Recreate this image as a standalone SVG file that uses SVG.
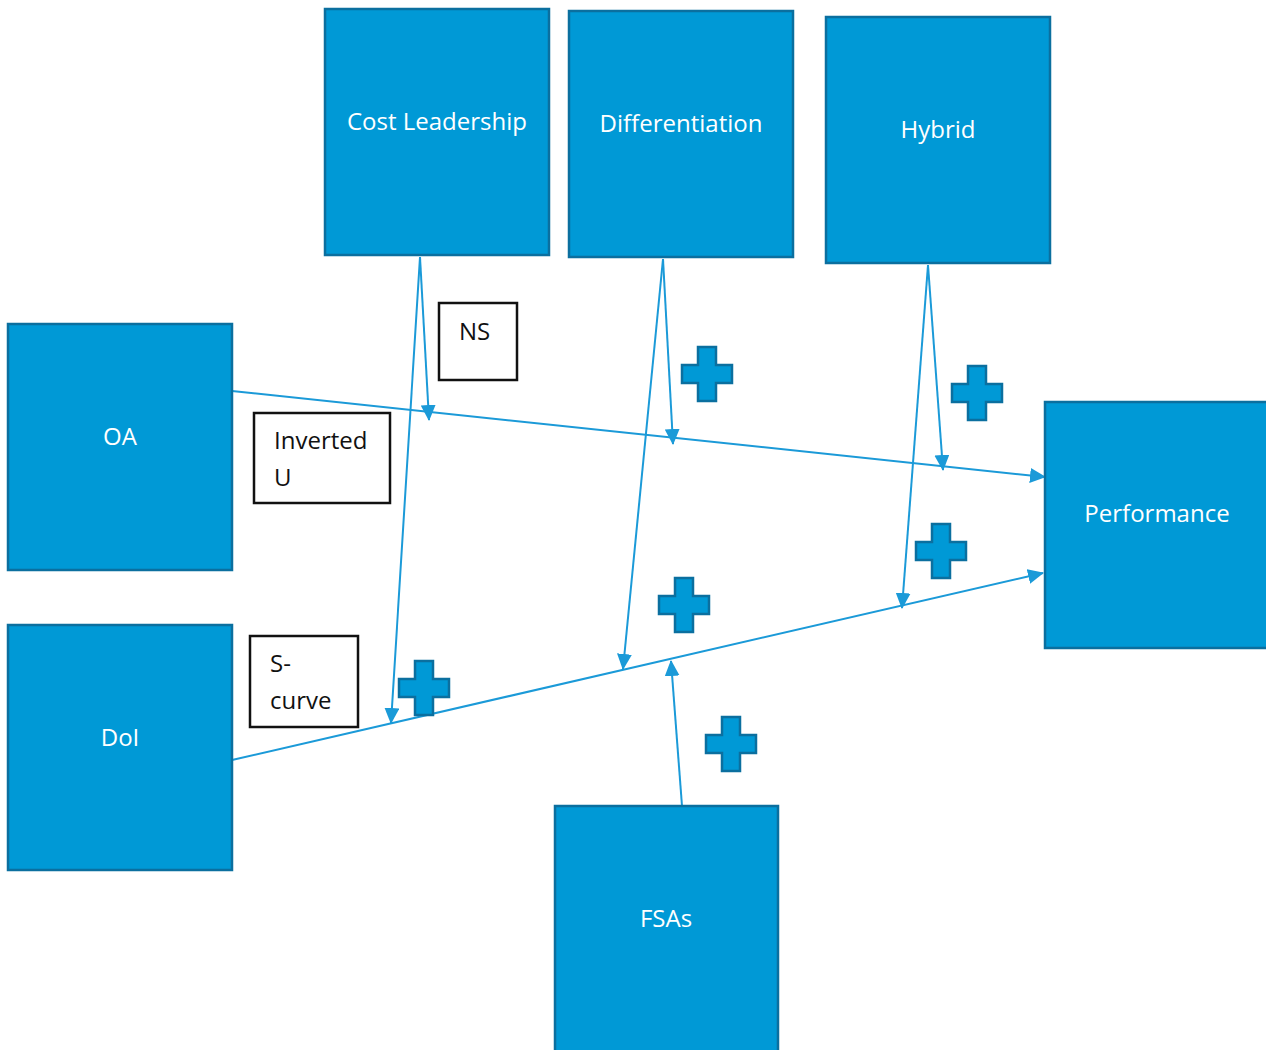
<svg xmlns="http://www.w3.org/2000/svg" width="1266" height="1050" viewBox="0 0 1266 1050">
<style>
.box{fill:#0099d6;stroke:#0b6f9f;stroke-width:2.5}
.lbl{fill:#fff;font-family:"Open Sans","Noto Sans",sans-serif;font-size:24px;text-anchor:middle}
.note{fill:#fff;stroke:#111;stroke-width:2.5}
.nt{fill:#111;font-family:"Open Sans","Noto Sans",sans-serif;font-size:24px}
.conn{stroke:#1b9ad8;stroke-width:2;fill:none;marker-end:url(#ah)}
.plus{fill:#0099d6;stroke:#0b6f9f;stroke-width:2.5}
</style>
<defs>
<marker id="ah" viewBox="0 0 16 15" refX="15" refY="7.5" markerWidth="16" markerHeight="15" markerUnits="userSpaceOnUse" orient="auto">
<path d="M0,0 L16,7.5 L0,15 z" fill="#1b9ad8"/>
</marker>
<polygon id="plus" class="plus" points="-9,-27 9,-27 9,-9 25,-9 25,9 9,9 9,27 -9,27 -9,9 -25,9 -25,-9 -9,-9"/>
</defs>
<rect width="1266" height="1050" fill="#fff"/>
<g id="connectors">
<line class="conn" x1="232" y1="391" x2="1045" y2="477"/>
<line class="conn" x1="232" y1="760" x2="1043" y2="573"/>
<line class="conn" x1="420" y1="257" x2="429" y2="420"/>
<line class="conn" x1="420" y1="257" x2="391" y2="723"/>
<line class="conn" x1="663" y1="259" x2="673" y2="444"/>
<line class="conn" x1="663" y1="259" x2="623" y2="669"/>
<line class="conn" x1="928" y1="265" x2="943" y2="470"/>
<line class="conn" x1="928" y1="265" x2="902" y2="608"/>
<line class="conn" x1="682" y1="806" x2="671" y2="661"/>
</g>
<g id="cost-leadership"><rect class="box" x="325" y="9" width="224" height="246"/><text class="lbl" x="437" y="130">Cost Leadership</text></g>
<g id="differentiation"><rect class="box" x="569" y="11" width="224" height="246"/><text class="lbl" x="681" y="132">Differentiation</text></g>
<g id="hybrid"><rect class="box" x="826" y="17" width="224" height="246"/><text class="lbl" x="938" y="138">Hybrid</text></g>
<g id="oa"><rect class="box" x="8" y="324" width="224" height="246"/><text class="lbl" x="120" y="445">OA</text></g>
<g id="doi"><rect class="box" x="8" y="625" width="224" height="245"/><text class="lbl" x="120" y="746">DoI</text></g>
<g id="performance"><rect class="box" x="1045" y="402" width="224" height="246"/><text class="lbl" x="1157" y="522">Performance</text></g>
<g id="fsas"><rect class="box" x="555" y="806" width="223" height="250"/><text class="lbl" x="666" y="927">FSAs</text></g>
<g id="ns"><rect class="note" x="439" y="303" width="78" height="77"/><text class="nt" x="459" y="340">NS</text></g>
<g id="inverted-u"><rect class="note" x="254" y="413" width="136" height="90"/><text class="nt" x="274" y="449">Inverted</text><text class="nt" x="274" y="486">U</text></g>
<g id="s-curve"><rect class="note" x="250" y="636" width="108" height="91"/><text class="nt" x="270" y="672">S-</text><text class="nt" x="270" y="709">curve</text></g>
<g id="plus-signs">
<use href="#plus" x="707" y="374"/>
<use href="#plus" x="977" y="393"/>
<use href="#plus" x="941" y="551"/>
<use href="#plus" x="684" y="605"/>
<use href="#plus" x="424" y="688"/>
<use href="#plus" x="731" y="744"/>
</g>
</svg>
